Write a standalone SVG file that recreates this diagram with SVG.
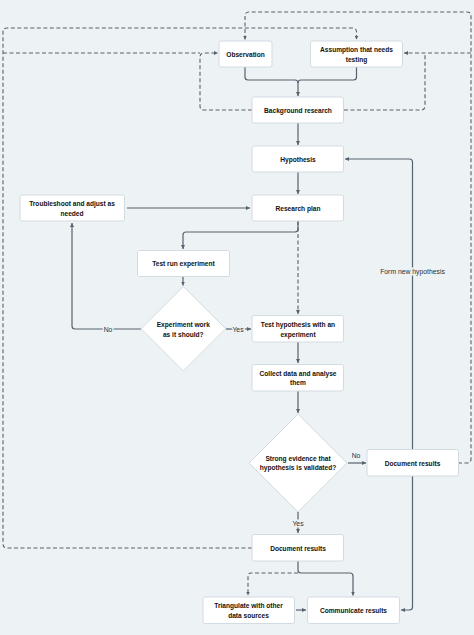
<svg xmlns="http://www.w3.org/2000/svg" width="474" height="635" viewBox="0 0 474 635">
<defs>
<marker id="ah" viewBox="0 0 6 6" refX="6" refY="3" markerWidth="4" markerHeight="4" markerUnits="userSpaceOnUse" orient="auto">
<path d="M0,0 L6,3 L0,6 Z" fill="#56626e"/>
</marker>
<style>
.bg{fill:#edf2f5}
.box{fill:#ffffff;stroke:#d3dbe2;stroke-width:1}
.t{font-family:"Liberation Sans",Arial,sans-serif;font-size:6.6px;font-weight:bold;fill:#111111;text-anchor:middle;dominant-baseline:central}
.lb{font-family:"Liberation Sans",Arial,sans-serif;font-size:6.8px;fill:#2a2f35;text-anchor:middle;dominant-baseline:central;stroke:#edf2f5;stroke-width:3;paint-order:stroke}
.c{fill:none;stroke:#56626e;stroke-width:1.2}
.d{fill:none;stroke:#56626e;stroke-width:1.1;stroke-dasharray:4 2.5}
.a{marker-end:url(#ah)}
</style>
</defs>
<rect class="bg" x="0" y="0" width="474" height="635"/>
<g id="connectors">
<path class="c a" d="M245,67 V77 Q245,80 248,80 H295 Q298,80 298,83 V96"/>
<path class="c" d="M356.5,67 V77 Q356.5,80 353.5,80 H301 Q298,80 298,83"/>
<path class="c a" d="M298,123 V145"/>
<path class="c a" d="M298,172 V194"/>
<path class="c a" d="M127,208 H250"/>
<path class="c a" d="M298,221 V229 Q298,232 295,232 H186 Q183,232 183,235 V249"/>
<path class="d a" d="M298,221 V314"/>
<path class="c a" d="M183,277 V285.5"/>
<path class="c a" d="M141,329 H75 Q72,329 72,326 V223"/>
<path class="c a" d="M226,329 H251"/>
<path class="c a" d="M298,342 V363"/>
<path class="c a" d="M298,391 V413"/>
<path class="c a" d="M348,463 H366"/>
<path class="c a" d="M298,512 V533"/>
<path class="c a" d="M412.5,449 V162 Q412.5,159 409.5,159 H345"/>
<path class="c a" d="M412.5,476 V607 Q412.5,610 409.5,610 H401"/>
<path class="c a" d="M298,561 V570 Q298,573 301,573 H350 Q353,573 353,576 V595.5"/>
<path class="d a" d="M298,573 H251 Q248,573 248,576 V595.5"/>
<path class="c a" d="M296,610 H306"/>
<path class="d a" d="M458,463 H467 Q471,463 471,459 V16 Q471,12 467,12 H249 Q245,12 245,16 V39.5"/>
<path class="d a" d="M471,53 H404"/>
<path class="d" d="M344,110 H421 Q425,110 425,106 V53"/>
<path class="d a" d="M252,110 H204 Q200,110 200,106 V57 Q200,53 204,53 H218"/>
<path class="d a" d="M252,548 H7 Q3,548 3,544 V32 Q3,28 7,28 H352.5 Q356.5,28 356.5,32 V39.5"/>
<path class="d" d="M3,53 H200"/>
<text class="lb" x="108" y="329">No</text>
<text class="lb" x="238" y="329">Yes</text>
<text class="lb" x="356" y="455">No</text>
<text class="lb" x="298" y="523">Yes</text>
<text class="lb" x="412.5" y="271">Form new hypothesis</text>
</g>
<g id="observation"><rect class="box" x="219" y="41" width="53" height="26" rx="2"/><text class="t" x="245.5" y="54">Observation</text></g>
<g id="assumption"><rect class="box" x="310.5" y="41" width="92" height="26" rx="2"/><text class="t" x="356.5" y="49.5">Assumption that needs</text><text class="t" x="356.5" y="59.5">testing</text></g>
<g id="background"><rect class="box" x="252" y="97" width="91.5" height="26" rx="2"/><text class="t" x="298" y="110">Background research</text></g>
<g id="hypothesis"><rect class="box" x="252" y="146" width="91.5" height="26" rx="2"/><text class="t" x="298" y="159">Hypothesis</text></g>
<g id="research-plan"><rect class="box" x="252" y="195" width="91.5" height="26" rx="2"/><text class="t" x="298" y="208">Research plan</text></g>
<g id="troubleshoot"><rect class="box" x="20" y="195" width="104.5" height="26" rx="2"/><text class="t" x="72" y="203">Troubleshoot and adjust as</text><text class="t" x="72" y="213">needed</text></g>
<g id="test-run"><rect class="box" x="137.5" y="250.5" width="92" height="26" rx="2"/><text class="t" x="183.5" y="263.5">Test run experiment</text></g>
<g id="decision-experiment"><path class="box" d="M183.3,286.5 L225.7,328.7 L183.3,371 L141,328.7 Z"/><text class="t" x="183.3" y="324">Experiment work</text><text class="t" x="183.3" y="334">as it should?</text></g>
<g id="test-hypothesis"><rect class="box" x="252" y="315.5" width="91.5" height="26.5" rx="2"/><text class="t" x="298" y="324">Test hypothesis with an</text><text class="t" x="298" y="334">experiment</text></g>
<g id="collect-data"><rect class="box" x="252" y="364.5" width="91.5" height="26.5" rx="2"/><text class="t" x="298" y="373">Collect data and analyse</text><text class="t" x="298" y="382.5">them</text></g>
<g id="decision-evidence"><path class="box" d="M298,414 L347,463 L298,512 L249,463 Z"/><text class="t" x="298" y="458.3">Strong evidence that</text><text class="t" x="298" y="467.7">hypothesis is validated?</text></g>
<g id="document-results-no"><rect class="box" x="367" y="449.5" width="91.5" height="26.5" rx="2"/><text class="t" x="412.5" y="463">Document results</text></g>
<g id="document-results-yes"><rect class="box" x="252" y="534.5" width="91.5" height="26.5" rx="2"/><text class="t" x="298" y="548">Document results</text></g>
<g id="triangulate"><rect class="box" x="203" y="597" width="91.5" height="26.5" rx="2"/><text class="t" x="248.5" y="605.5">Triangulate with other</text><text class="t" x="248.5" y="615.3">data sources</text></g>
<g id="communicate"><rect class="box" x="307.5" y="597" width="92" height="26.5" rx="2"/><text class="t" x="353.5" y="610">Communicate results</text></g>
</svg>
